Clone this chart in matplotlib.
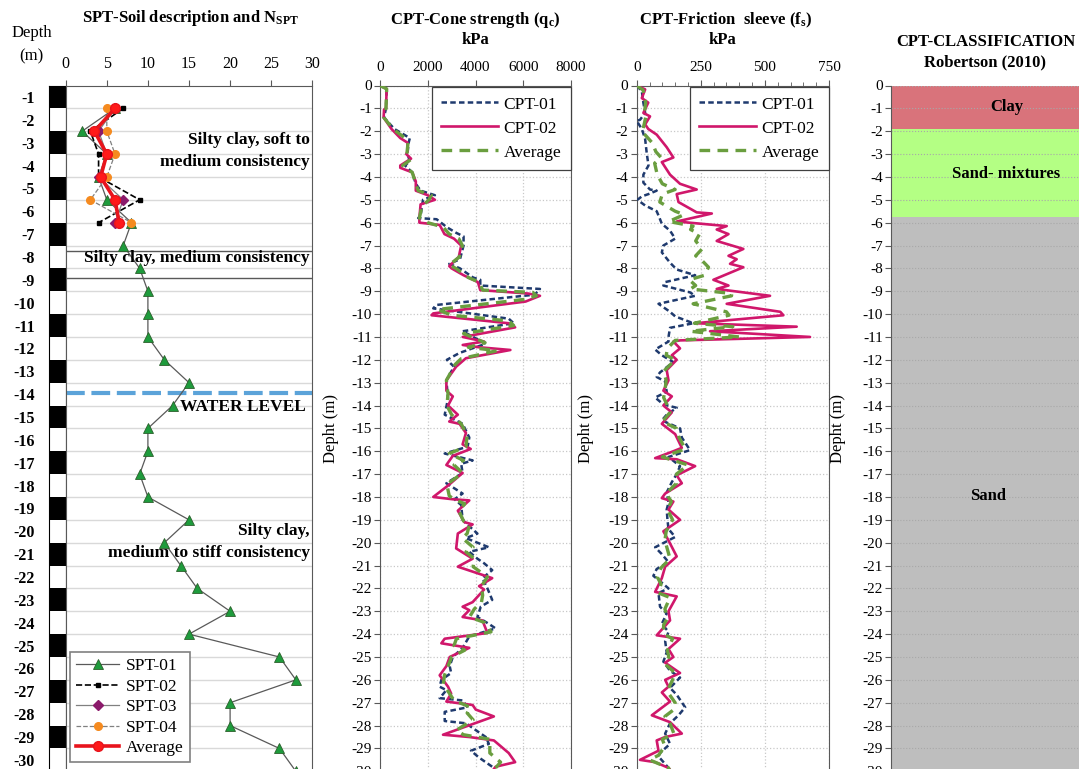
"""
SPT / CPT soil profile (4 panels)
"""
import numpy as np
import matplotlib
matplotlib.use("Agg")
import matplotlib.pyplot as plt
from matplotlib.ticker import MultipleLocator

# ---------------- data ----------------
depth_labels = list(range(1, 31))

spt_depth = [-1.5, -2.5, -3.5, -4.5, -5.5, -6.5, -7.5, -8.5, -9.5, -10.5,
             -11.5, -12.5, -13.5, -14.5, -15.5, -16.5, -17.5, -18.5, -19.5, -20.5,
             -21.5, -22.5, -23.5, -24.5, -25.5, -26.5, -27.5, -28.5, -29.5, -30.5]
spt01 = [6, 2, 5, 4, 5, 8, 7, 9, 10, 10, 10, 12, 15, 13, 10, 10, 9, 10, 15, 12,
         14, 16, 20, 15, 26, 28, 20, 20, 26, 28]
spt_depth_short = [-1.5, -2.5, -3.5, -4.5, -5.5, -6.5]
spt02 = [7, 3, 4, 4, 9, 4]
spt03 = [6, 4, 5, 4, 7, 6]
spt04 = [5, 5, 6, 5, 3, 8]
spt_avg = [6, 3.5, 5, 4.25, 6, 6.5]

layer_bounds = [-7.75, -8.9]
water_level = -13.93

# cone resistance qc (depth, kPa)
cpt01_qc = [(0, 0), (-0.15, 280), (-1.0, 250), (-1.4, 170), (-1.9, 600), (-2.3, 1250),
            (-2.5, 1200), (-3.0, 1150), (-3.3, 1250), (-3.5, 1050), (-3.8, 1350),
            (-4.3, 1500), (-4.6, 1700), (-4.8, 2300), (-5.0, 1800), (-5.7, 1700),
            (-5.8, 1600), (-5.85, 2370), (-6.2, 2800), (-6.45, 3200), (-6.6, 3500),
            (-7.0, 3500), (-7.6, 3350), (-7.8, 2900), (-8.0, 3350), (-8.4, 3900),
            (-8.5, 4200), (-8.75, 4200), (-8.9, 6700), (-9.15, 6480), (-9.6, 2360),
            (-9.75, 2230), (-10.2, 5390), (-10.4, 5600), (-10.75, 3465), (-11.3, 4430),
            (-11.45, 4000), (-11.7, 3330), (-12.0, 2800), (-12.3, 3100), (-12.9, 2780),
            (-13.7, 2850), (-14.4, 2710), (-14.8, 3460), (-15.4, 3740), (-15.8, 3670),
            (-16.1, 2710), (-16.4, 3880), (-16.55, 3400), (-16.95, 3460), (-17.4, 2780),
            (-17.85, 3460), (-18.1, 3120), (-18.35, 3400), (-19.0, 3460), (-19.15, 3600),
            (-19.6, 4080), (-19.8, 3600), (-20.2, 4560), (-20.4, 3740), (-20.7, 4080),
            (-20.9, 4360), (-21.2, 4700), (-21.55, 4290), (-22.0, 4500), (-22.5, 4700),
            (-22.8, 4220), (-23.25, 4080), (-23.55, 4560), (-23.75, 4840), (-24.1, 3740),
            (-24.6, 3460), (-25.0, 3050), (-25.4, 2920), (-25.7, 2980), (-26.0, 2570),
            (-26.3, 2500), (-26.45, 2780), (-26.8, 2500), (-26.9, 3460), (-27.2, 3670),
            (-27.4, 2710), (-27.8, 2710), (-27.9, 3600), (-28.3, 4150), (-28.5, 4430),
            (-28.8, 4560), (-29.1, 3810), (-29.4, 4150), (-29.8, 4700), (-30.0, 4800)]
cpt02_qc = [(0, 0), (-0.15, 280), (-1.0, 250), (-1.05, 170), (-1.4, 150), (-1.9, 480),
            (-2.3, 850), (-2.5, 1150), (-2.9, 1150), (-3.0, 1100), (-3.2, 1300),
            (-3.5, 850), (-3.6, 850), (-3.8, 1350), (-4.2, 1500), (-4.6, 1500),
            (-4.8, 2000), (-5.0, 2300), (-5.2, 1700), (-5.8, 1650), (-6.0, 1650),
            (-6.1, 2500), (-6.5, 2700), (-6.7, 3100), (-7.0, 3400), (-7.5, 3300),
            (-7.9, 2900), (-8.0, 3000), (-8.3, 3500), (-8.6, 4100), (-8.95, 4200),
            (-9.1, 6200), (-9.2, 6700), (-9.45, 6100), (-9.97, 2230), (-10.05, 2160),
            (-10.4, 5390), (-10.58, 5660), (-11.0, 3465), (-11.2, 4360), (-11.35, 3465),
            (-11.45, 4150), (-11.57, 5460), (-11.93, 3600), (-12.3, 3190), (-12.9, 2780),
            (-13.35, 2780), (-13.6, 3050), (-14.0, 2850), (-14.4, 3260), (-14.7, 2900),
            (-14.8, 3330), (-15.2, 3600), (-15.7, 3460), (-15.9, 3800), (-16.2, 3050),
            (-16.6, 2780), (-16.95, 3460), (-17.5, 2850), (-18.0, 2230), (-18.1, 3050),
            (-18.15, 3740), (-18.6, 3260), (-19.1, 3530), (-19.2, 3880), (-19.6, 3260),
            (-20.25, 3190), (-20.7, 3880), (-21.05, 3260), (-21.55, 4700), (-21.9, 4150),
            (-22.05, 4360), (-22.6, 3880), (-22.8, 3460), (-22.95, 3740), (-23.25, 3460),
            (-23.4, 4290), (-23.95, 4500), (-24.2, 2710), (-24.4, 2570), (-24.6, 3740),
            (-25.0, 2920), (-25.4, 2780), (-25.8, 2500), (-26.3, 2850), (-26.6, 2980),
            (-26.95, 2780), (-27.1, 3880), (-27.3, 4010), (-27.6, 4770), (-28.4, 2640),
            (-28.5, 3740), (-28.65, 4770), (-29.2, 5390), (-29.6, 5660), (-29.8, 4840),
            (-30.0, 4700)]
avg_qc = [(0, 0), (-0.15, 280), (-1.0, 250), (-1.4, 160), (-1.9, 540), (-2.3, 1050),
          (-2.5, 1175), (-3.0, 1125), (-3.25, 1275), (-3.5, 950), (-3.8, 1350),
          (-4.3, 1500), (-4.6, 1600), (-4.8, 2150), (-5.0, 2050), (-5.3, 1750),
          (-5.8, 1650), (-6.0, 2000), (-6.2, 2650), (-6.5, 2900), (-6.7, 3300),
          (-7.0, 3450), (-7.5, 3325), (-7.85, 2900), (-8.0, 3175), (-8.4, 3700),
          (-8.6, 4150), (-8.95, 4300), (-9.05, 6400), (-9.2, 6550), (-9.35, 6100),
          (-9.8, 2400), (-10.05, 3000), (-10.3, 5400), (-10.5, 5600), (-10.85, 3500),
          (-11.25, 4400), (-11.45, 3700), (-11.6, 4900), (-11.95, 3400), (-12.2, 3150),
          (-12.9, 2780), (-13.5, 2850), (-14.0, 2800), (-14.4, 3000), (-14.8, 3400),
          (-15.3, 3650), (-15.8, 3600), (-16.1, 2900), (-16.4, 3500), (-16.6, 3100),
          (-16.95, 3460), (-17.45, 2800), (-17.95, 2900), (-18.1, 3100), (-18.3, 3550),
          (-18.6, 3300), (-19.05, 3500), (-19.2, 3750), (-19.6, 3650), (-19.8, 3450),
          (-20.2, 3900), (-20.4, 3600), (-20.7, 3950), (-21.05, 3900), (-21.5, 4500),
          (-21.9, 4250), (-22.3, 4300), (-22.6, 4250), (-22.9, 3950), (-23.25, 3750),
          (-23.5, 4400), (-23.9, 4650), (-24.2, 3200), (-24.5, 3100), (-24.7, 3550),
          (-25.0, 3000), (-25.4, 2850), (-25.8, 2700), (-26.2, 2650), (-26.5, 2850),
          (-26.9, 3100), (-27.2, 3800), (-27.45, 3650), (-27.75, 3900), (-28.2, 3200),
          (-28.4, 3500), (-28.6, 4600), (-28.9, 4600), (-29.2, 4600), (-29.6, 5050),
          (-29.9, 4800)]

# sleeve friction fs (depth, kPa)
cpt01_fs = [(0, 0), (-0.25, 20), (-0.75, 26), (-1.2, 33), (-1.5, 13), (-1.55, 0),
            (-1.9, 20), (-2.35, 33), (-2.95, 39), (-3.5, 46), (-3.9, 26), (-4.25, 26),
            (-4.55, 52), (-4.6, 78), (-4.75, 46), (-4.85, 20), (-5.0, 3), (-5.25, 33),
            (-5.5, 78), (-5.85, 91), (-6.05, 98), (-6.35, 130), (-6.7, 150), (-7.0, 104),
            (-7.3, 98), (-7.75, 130), (-8.05, 156), (-8.3, 228), (-8.6, 111), (-8.75, 104),
            (-9.05, 208), (-9.2, 228), (-9.55, 85), (-9.9, 130), (-10.1, 150), (-10.4, 221),
            (-10.6, 130), (-11.0, 124), (-11.2, 124), (-11.55, 72), (-11.8, 98),
            (-12.1, 143), (-12.55, 91), (-12.75, 78), (-12.95, 111), (-13.4, 117),
            (-13.65, 72), (-13.95, 104), (-14.1, 156), (-14.4, 117), (-14.65, 98),
            (-15.0, 169), (-15.4, 176), (-15.95, 208), (-16.25, 124), (-16.65, 169),
            (-17.0, 156), (-17.35, 137), (-17.8, 117), (-18.25, 124), (-18.55, 117),
            (-19.0, 120), (-19.4, 124), (-19.75, 150), (-20.2, 72), (-20.5, 98),
            (-20.85, 124), (-21.15, 78), (-21.45, 65), (-21.75, 98), (-22.0, 124),
            (-22.2, 85), (-22.8, 91), (-23.1, 117), (-23.55, 98), (-23.9, 124),
            (-24.3, 111), (-24.8, 117), (-25.2, 104), (-25.6, 130), (-25.9, 169),
            (-26.35, 130), (-26.65, 156), (-27.2, 189), (-27.55, 163), (-27.9, 130),
            (-28.35, 111), (-28.8, 130), (-29.2, 91), (-29.35, 85), (-29.85, 124),
            (-30.0, 130)]
cpt02_fs = [(0, 0), (-0.17, 33), (-0.55, 20), (-0.75, 45), (-1.2, 26), (-1.35, 52),
            (-1.7, 33), (-1.9, 45), (-2.15, 78), (-2.7, 117), (-3.15, 143), (-3.35, 98),
            (-3.9, 130), (-4.3, 169), (-4.55, 234), (-4.75, 156), (-5.1, 163),
            (-5.55, 234), (-5.6, 293), (-5.95, 156), (-6.15, 351), (-6.3, 312),
            (-6.5, 358), (-6.8, 312), (-7.15, 416), (-7.45, 358), (-7.6, 390),
            (-7.8, 364), (-7.95, 416), (-8.5, 299), (-8.75, 358), (-8.9, 312),
            (-9.2, 520), (-9.55, 351), (-9.9, 560), (-10.05, 572), (-10.4, 228),
            (-10.55, 624), (-10.75, 286), (-11.0, 676), (-11.15, 169), (-11.2, 143),
            (-11.5, 169), (-11.8, 137), (-12.0, 156), (-12.45, 117), (-12.9, 124),
            (-13.35, 104), (-13.6, 137), (-14.0, 104), (-14.3, 137), (-14.8, 98),
            (-15.25, 150), (-15.85, 176), (-16.0, 143), (-16.3, 72), (-16.35, 156),
            (-16.65, 228), (-17.05, 156), (-17.4, 176), (-17.85, 111), (-18.05, 98),
            (-18.2, 143), (-18.55, 124), (-19.0, 169), (-19.5, 104), (-19.9, 124),
            (-20.6, 156), (-21.05, 111), (-21.55, 98), (-22.15, 72), (-22.35, 156),
            (-23.0, 124), (-23.4, 130), (-24.05, 78), (-24.2, 169), (-24.65, 124),
            (-25.0, 143), (-25.25, 111), (-25.7, 169), (-26.0, 111), (-26.3, 124),
            (-26.55, 98), (-26.95, 130), (-27.55, 59), (-27.85, 130), (-28.35, 176),
            (-28.5, 111), (-28.65, 78), (-29.1, 85), (-29.5, 13), (-29.6, 72),
            (-29.85, 124), (-30.0, 135)]
avg_fs = [(0, 0), (-0.2, 25), (-0.75, 35), (-1.2, 30), (-1.4, 35), (-1.9, 25),
          (-2.0, 20), (-2.5, 60), (-2.9, 75), (-3.15, 95), (-3.4, 70), (-3.9, 80),
          (-4.3, 100), (-4.55, 150), (-4.75, 100), (-5.1, 90), (-5.5, 150),
          (-5.65, 185), (-5.95, 125), (-6.15, 220), (-6.3, 210), (-6.5, 245),
          (-6.8, 230), (-7.15, 255), (-7.45, 230), (-7.6, 250), (-7.95, 280),
          (-8.3, 265), (-8.5, 205), (-8.75, 230), (-8.9, 210), (-9.1, 370),
          (-9.2, 370), (-9.55, 220), (-9.9, 350), (-10.05, 360), (-10.4, 225),
          (-10.55, 375), (-10.75, 210), (-11.0, 400), (-11.15, 150), (-11.5, 120),
          (-11.8, 115), (-12.0, 150), (-12.5, 105), (-12.9, 115), (-13.35, 110),
          (-13.65, 105), (-14.0, 120), (-14.3, 130), (-14.7, 100), (-15.0, 155),
          (-15.4, 165), (-15.9, 190), (-16.25, 100), (-16.6, 200), (-17.0, 155),
          (-17.4, 155), (-17.85, 115), (-18.2, 135), (-18.55, 120), (-19.0, 140),
          (-19.5, 115), (-19.9, 110), (-20.3, 120), (-20.7, 130), (-21.1, 95),
          (-21.5, 80), (-21.8, 95), (-22.2, 85), (-22.4, 130), (-22.9, 110),
          (-23.3, 120), (-23.6, 105), (-24.0, 105), (-24.2, 140), (-24.7, 120),
          (-25.0, 125), (-25.3, 110), (-25.7, 150), (-26.0, 140), (-26.35, 125),
          (-26.6, 125), (-27.0, 150), (-27.3, 145), (-27.6, 110), (-27.9, 130),
          (-28.35, 145), (-28.6, 100), (-28.9, 110), (-29.3, 85), (-29.5, 50),
          (-29.85, 124), (-30.0, 130)]

# Robertson (2010) classification layers
class_names = ['Clay', 'Sand- mixtures', 'Sand']
class_top = [0, -1.92, -5.76]
class_bottom = [-1.92, -5.76, -30]
class_colors = ['#D9737B', '#B4FF84', '#BEBEBE']
class_label_depth = [-0.95, -3.85, -17.95]
class_label_x = [0.5, 0.5, 0.42]

# ---------------- style ----------------
plt.rcParams['font.family'] = ['Liberation Serif', 'DejaVu Serif']
plt.rcParams['axes.unicode_minus'] = False
plt.rcParams['mathtext.fontset'] = 'custom'
plt.rcParams['mathtext.rm'] = 'Liberation Serif'
plt.rcParams['mathtext.bf'] = 'Liberation Serif:bold'
plt.rcParams['mathtext.it'] = 'Liberation Serif:italic'

W, H = 1079, 769
TOP, BOT = 85.5, 771.3
fig = plt.figure(figsize=(W / 100, H / 100), dpi=100)


def px_axes(x0, x1):
    return fig.add_axes([x0 / W, 1 - BOT / H, (x1 - x0) / W, (BOT - TOP) / H])


def fig_text(x, y, s, **kw):
    fig.text(x / W, 1 - y / H, s, ha='center', va='center', **kw)


NAVY = '#1F3A6E'
PINK = '#D0176B'
GREEN = '#6A9E3F'
SPINE = '#595959'

# ---------------- SPT: depth strip ----------------
ax_strip = px_axes(49, 65.7)
ax_strip.barh([-n for n in depth_labels], 1, height=1, left=0,
              color=['black' if n % 2 else 'white' for n in depth_labels])
ax_strip.set_xlim(0, 1)
ax_strip.set_ylim(-30.5, -0.5)
ax_strip.set_xticks([])
ax_strip.set_yticks([-n for n in depth_labels])
ax_strip.set_yticklabels(['-%d' % n for n in depth_labels], fontsize=11.5, fontweight='bold')
ax_strip.tick_params(axis='y', length=0, pad=10)
for s in ax_strip.spines.values():
    s.set_color('black')
    s.set_linewidth(0.8)

fig_text(32, 33, 'Depth', fontsize=12)
fig_text(31, 56, '(m)', fontsize=12)

# ---------------- SPT: N values ----------------
ax_spt = px_axes(65.7, 312.3)
ax_spt.set_xlim(0, 30)
ax_spt.set_ylim(-30.5, -0.5)
ax_spt.xaxis.tick_top()
ax_spt.set_xticks(range(0, 31, 5))
ax_spt.tick_params(axis='x', labelsize=11.5, length=4, color=SPINE, pad=6)
ax_spt.set_yticks(spt_depth)
ax_spt.tick_params(axis='y', length=0, labelleft=False)
ax_spt.grid(axis='y', color='#D9D9D9', lw=1)
ax_spt.set_axisbelow(True)
for s in ax_spt.spines.values():
    s.set_color(SPINE)
ax_spt.spines['bottom'].set_visible(False)

ax_spt.plot(spt01, spt_depth, color='#595959', lw=0.9, marker='^', ms=7,
            mfc='#1E9B3C', mec='#2B5F2B', mew=0.6, label='SPT-01', zorder=3)
ax_spt.plot(spt02, spt_depth_short, color='black', lw=1.2, ls='--', marker='s', ms=3.5,
            mfc='black', mec='black', label='SPT-02', zorder=4)
ax_spt.plot(spt03, spt_depth_short, color='#808080', lw=0.9, marker='D', ms=5,
            mfc='#8B1A6B', mec='#8B1A6B', label='SPT-03', zorder=4)
ax_spt.plot(spt04, spt_depth_short, color='#808080', lw=0.9, ls='--', marker='o', ms=5.5,
            mfc='#F58A1F', mec='#F58A1F', label='SPT-04', zorder=4)
ax_spt.plot(spt_avg, spt_depth_short, color='#E8141C', lw=2.6, marker='o', ms=7,
            mfc='#FF1A1A', mec='#E8141C', label='Average', zorder=5)

for yb in layer_bounds:
    ax_spt.axhline(yb, color='#595959', lw=1, zorder=2)
ax_spt.axhline(water_level, color='#5BA3D9', lw=3, ls=(0, (4.5, 1.6)), zorder=2)

bold = dict(fontsize=12.5, fontweight='bold', ha='right', va='center')
ax_spt.text(29.7, -3.38, 'Silty clay, soft to\nmedium consistency', linespacing=1.5,
            multialignment='right', **bold)
ax_spt.text(29.7, -8.05, 'Silty clay, medium consistency', **bold)
ax_spt.text(29.25, -14.56, 'WATER LEVEL', **bold)
ax_spt.text(29.7, -20.45, 'Silty clay,\nmedium to stiff consistency', linespacing=1.5,
            multialignment='right', **bold)

leg = ax_spt.legend(loc='lower left', bbox_to_anchor=(0.017, 0.013), fontsize=12.5,
                    handlelength=2.5, labelspacing=0.25, borderpad=0.35,
                    handletextpad=0.4, fancybox=False, framealpha=1,
                    edgecolor='#808080', borderaxespad=0)
leg.get_frame().set_linewidth(1.2)

fig_text(190, 18, r'SPT-Soil description and N$_{\mathbf{SPT}}$', fontsize=12,
         fontweight='bold')


# ---------------- CPT panels ----------------
def cpt_axes(x0, x1, xmax, xticks):
    ax = px_axes(x0, x1)
    ax.set_xlim(0, xmax)
    ax.set_ylim(-30, 0)
    ax.xaxis.tick_top()
    ax.set_xticks(xticks)
    ax.set_yticks(range(0, -31, -1))
    ax.tick_params(axis='both', labelsize=11, length=4, color=SPINE, pad=2)
    ax.tick_params(axis='x', pad=4)
    ax.grid(True, color='#C8C8C8', ls=':', lw=0.9)
    ax.set_axisbelow(True)
    for s in ax.spines.values():
        s.set_color(SPINE)
    ax.spines['bottom'].set_visible(False)
    ax.set_ylabel('Depht (m)', fontsize=12)
    return ax


def cpt_legend(ax):
    leg = ax.legend(loc='upper right', bbox_to_anchor=(1.0, 0.998), fontsize=12.5,
                    handlelength=3.3, labelspacing=0.45, borderpad=0.55,
                    handletextpad=0.3, fancybox=False, framealpha=1,
                    edgecolor='#404040', borderaxespad=0)
    leg.get_frame().set_linewidth(0.9)


def draw_cpt(ax, s01, s02, savg):
    d, v = np.array(s01).T
    ax.plot(v, d, color=NAVY, lw=1.8, ls=(0, (2.2, 1.3)), label='CPT-01', zorder=3)
    d, v = np.array(s02).T
    ax.plot(v, d, color=PINK, lw=1.9, label='CPT-02', zorder=4)
    d, v = np.array(savg).T
    ax.plot(v, d, color=GREEN, lw=2.4, ls=(0, (3.2, 2.2)), label='Average', zorder=5)


ax_qc = cpt_axes(380, 571, 8000, [0, 2000, 4000, 6000, 8000])
ax_qc.yaxis.set_label_coords(-0.215, 0.5)
draw_cpt(ax_qc, cpt01_qc, cpt02_qc, avg_qc)
cpt_legend(ax_qc)
fig_text(475, 20, r'CPT-Cone strength (q$_{\mathbf{c}}$)', fontsize=12, fontweight='bold')
fig_text(475, 40, 'kPa', fontsize=12, fontweight='bold')

ax_fs = cpt_axes(636.7, 829, 750, [0, 250, 500, 750])
ax_fs.xaxis.set_minor_locator(MultipleLocator(50))
ax_fs.tick_params(axis='x', which='minor', length=3, color=SPINE)
ax_fs.yaxis.set_label_coords(-0.224, 0.5)
draw_cpt(ax_fs, cpt01_fs, cpt02_fs, avg_fs)
cpt_legend(ax_fs)
fig_text(726, 20, r'CPT-Friction  sleeve (f$_{\mathbf{s}}$)', fontsize=12, fontweight='bold')
fig_text(722, 40, 'kPa', fontsize=12, fontweight='bold')

# ---------------- classification ----------------
ax_cl = px_axes(891, 1122)
ax_cl.set_xlim(0, 1)
ax_cl.set_ylim(-30, 0)
for top, bot, col in zip(class_top, class_bottom, class_colors):
    ax_cl.barh((top + bot) / 2, 1, height=top - bot, left=0, color=col, zorder=1)
for name, yd, xf in zip(class_names, class_label_depth, class_label_x):
    ax_cl.text(xf, yd, name, fontsize=12, fontweight='bold', ha='center',
               va='center', zorder=3)
ax_cl.set_xticks([])
ax_cl.set_yticks(range(0, -31, -1))
ax_cl.tick_params(axis='y', labelsize=11, length=4, color=SPINE, pad=2)
ax_cl.grid(axis='y', color='#A8A8A8', ls=':', lw=0.8, zorder=2)
for s in ax_cl.spines.values():
    s.set_visible(False)
ax_cl.spines['left'].set_visible(True)
ax_cl.spines['left'].set_color(SPINE)
ax_cl.set_ylabel('Depht (m)', fontsize=12)
ax_cl.yaxis.set_label_coords(-0.196, 0.5)
fig_text(986, 42, 'CPT-CLASSIFICATION', fontsize=12, fontweight='bold')
fig_text(985, 62, 'Robertson (2010)', fontsize=12, fontweight='bold')

fig.savefig('out.png', dpi=100)
